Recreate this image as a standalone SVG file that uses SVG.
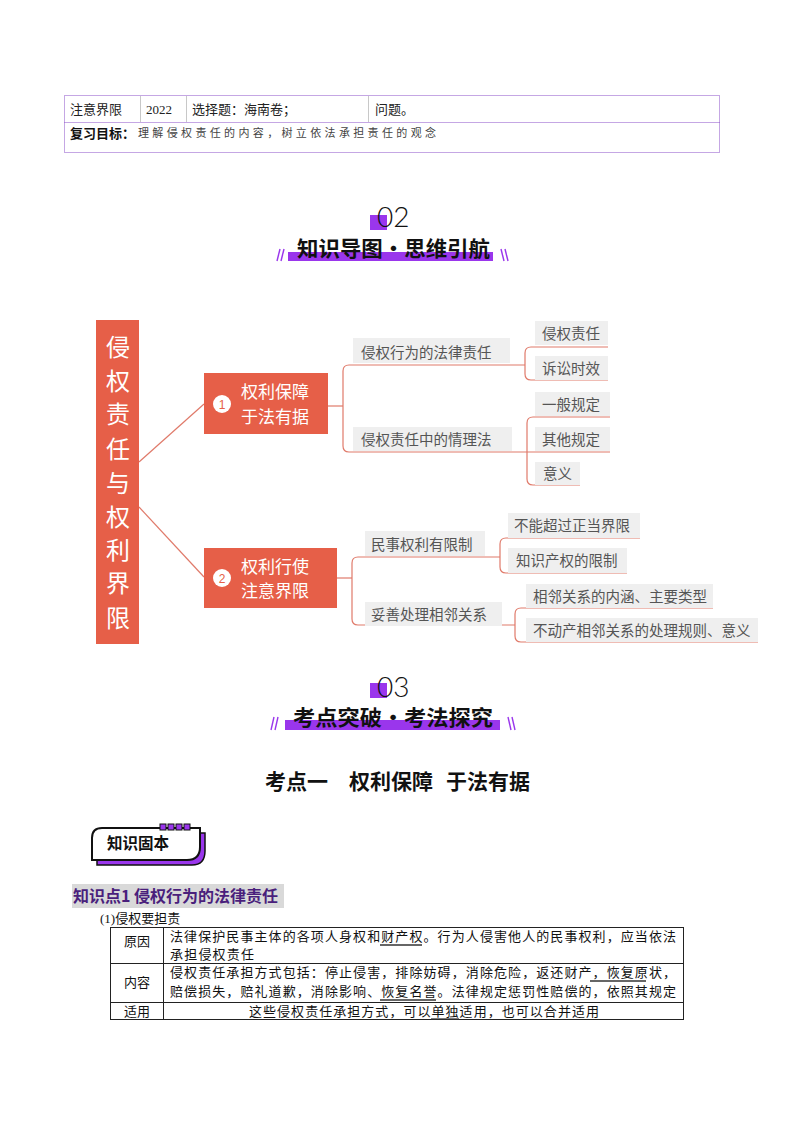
<svg xmlns="http://www.w3.org/2000/svg" width="793" height="1122" viewBox="0 0 793 1122">
<style>
.cjk{font-family:"Noto Sans CJK SC","Liberation Sans",sans-serif}
.t13{font-size:13px;fill:#222}
.tb{font-size:13px;fill:#111}
.sub{font-size:14.5px;fill:#555}
.subbox{fill:#efefef}
.conn{fill:none;stroke:#e07a6a;stroke-width:1.2}
.org{fill:#e65f48}
.wht{fill:#fff}
.pur{fill:#9a36ec}
.slash{stroke:#9a36ec;stroke-width:1.4}
.hd{font-size:21px;font-weight:700;fill:#111}
.num{font-family:Lato,"Liberation Sans",sans-serif;font-weight:300;font-size:28px;fill:#111}
.tbl{fill:none;stroke:#222;stroke-width:1}
.ul{stroke:#333;stroke-width:1.3}
</style>
<rect width="793" height="1122" fill="#fff"/>

<!-- top table -->
<g id="top-table">
<rect x="64.5" y="95.5" width="655" height="57" fill="none" stroke="#8a4fc9" stroke-width="1" stroke-dasharray="1,1"/>
<line x1="64.5" y1="122.5" x2="719.5" y2="122.5" stroke="#8a4fc9" stroke-dasharray="1,1"/>
<line x1="140.5" y1="96" x2="140.5" y2="122" stroke="#c8c8c8"/>
<line x1="186.5" y1="96" x2="186.5" y2="122" stroke="#c8c8c8"/>
<line x1="368.5" y1="96" x2="368.5" y2="122" stroke="#c8c8c8"/>
<text x="70" y="114" class="cjk t13">注意界限</text>
<text x="146" y="114" font-family="Liberation Serif,serif" font-size="13" fill="#222">2022</text>
<text x="192" y="114" class="cjk t13">选择题：海南卷；</text>
<text x="375" y="114" class="cjk t13">问题。</text>
<text x="70" y="138" class="cjk" font-size="13" font-weight="700" fill="#111">复习目标：</text>
<text x="138" y="137" class="cjk" font-size="11" fill="#444" textLength="298" lengthAdjust="spacing">理解侵权责任的内容，树立依法承担责任的观念</text>
</g>

<!-- heading 02 -->
<g id="heading-02">
<rect x="370" y="215" width="17" height="15" class="pur"/>
<text x="377" y="227" class="num">02</text>
<rect x="288" y="252" width="205" height="9" class="pur"/>
<text x="297" y="256" class="cjk hd" textLength="193" lengthAdjust="spacingAndGlyphs">知识导图•思维引航</text>
<line x1="277" y1="261" x2="280" y2="249" class="slash"/>
<line x1="281" y1="261" x2="284" y2="249" class="slash"/>
<line x1="501" y1="249" x2="504" y2="261" class="slash"/>
<line x1="505" y1="249" x2="508" y2="261" class="slash"/>
</g>

<!-- connectors -->
<g id="connectors">
<path class="conn" d="M139,462 L204,404"/>
<path class="conn" d="M139,507 L204,577"/>
<path class="conn" d="M328,406 H343"/>
<path class="conn" d="M349,365 Q343,365 343,371 V446 Q343,452 349,452"/>
<path class="conn" d="M349,365 H525"/>
<path class="conn" d="M349,452 H610"/>
<path class="conn" d="M531,347 Q525,347 525,353 V374 Q525,380 531,380"/>
<path class="conn" d="M531,347 H608 M531,380 H608"/>
<path class="conn" d="M533,417 Q527,417 527,423 V479 Q527,485 533,485"/>
<path class="conn" d="M533,417 H610 M533,485 H580"/>
<path class="conn" d="M337,578 H352"/>
<path class="conn" d="M358,557 Q352,557 352,563 V619 Q352,625 358,625"/>
<path class="conn" d="M358,557 H500 M358,625 H515"/>
<path class="conn" d="M506,538 Q500,538 500,544 V567 Q500,573 506,573"/>
<path class="conn" d="M506,538 H640 M506,573 H627"/>
<path class="conn" d="M521,608 Q515,608 515,614 V636 Q515,642 521,642"/>
<path class="conn" d="M521,608 H713 M521,642 H758"/>
</g>

<!-- root -->
<g id="root">
<rect x="96" y="320" width="43" height="324" class="org"/>
<g class="cjk wht" font-size="24" text-anchor="middle">
<text x="118" y="356">侵</text>
<text x="118" y="390">权</text>
<text x="118" y="423">责</text>
<text x="118" y="458">任</text>
<text x="118" y="492">与</text>
<text x="118" y="526">权</text>
<text x="118" y="559">利</text>
<text x="118" y="592">界</text>
<text x="118" y="627">限</text>
</g>
</g>

<g id="node1">
<rect x="204" y="373" width="124" height="61" class="org"/>
<circle cx="222" cy="404" r="9" class="wht"/>
<text x="222" y="408.5" font-family="Liberation Sans,sans-serif" font-size="12" text-anchor="middle" fill="#e65f48">1</text>
<text x="275" y="398" class="cjk wht" font-size="17" text-anchor="middle">权利保障</text>
<text x="275" y="423" class="cjk wht" font-size="17" text-anchor="middle">于法有据</text>
</g>

<g id="node2">
<rect x="204" y="548" width="133" height="60" class="org"/>
<circle cx="222" cy="578" r="9" class="wht"/>
<text x="222" y="582.5" font-family="Liberation Sans,sans-serif" font-size="12" text-anchor="middle" fill="#e65f48">2</text>
<text x="275" y="573" class="cjk wht" font-size="17" text-anchor="middle">权利行使</text>
<text x="275" y="597" class="cjk wht" font-size="17" text-anchor="middle">注意界限</text>
</g>

<g id="sub-1-1">
<rect x="353" y="338" width="157" height="25" class="subbox"/>
<text x="361" y="357.5" class="cjk sub" font-size="15">侵权行为的法律责任</text>
</g>
<g id="sub-1-2">
<rect x="353" y="427" width="159" height="24" class="subbox"/>
<text x="361" y="444.5" class="cjk sub" font-size="15">侵权责任中的情理法</text>
</g>
<g id="leaf-qqzr">
<rect x="535" y="321" width="73" height="24" class="subbox"/>
<text x="542" y="338.5" class="cjk sub">侵权责任</text>
</g>
<g id="leaf-sssx">
<rect x="535" y="356" width="73" height="24" class="subbox"/>
<text x="542" y="374" class="cjk sub">诉讼时效</text>
</g>
<g id="leaf-ybgd">
<rect x="535" y="392" width="75" height="24" class="subbox"/>
<text x="542" y="409.5" class="cjk sub">一般规定</text>
</g>
<g id="leaf-qtgd">
<rect x="535" y="427" width="75" height="24" class="subbox"/>
<text x="542" y="444.5" class="cjk sub">其他规定</text>
</g>
<g id="leaf-yy">
<rect x="535" y="462" width="45" height="23" class="subbox"/>
<text x="543" y="479" class="cjk sub">意义</text>
</g>

<g id="sub-2-1">
<rect x="365" y="531" width="120" height="25" class="subbox"/>
<text x="371" y="549.5" class="cjk sub" font-size="15">民事权利有限制</text>
</g>
<g id="sub-2-2">
<rect x="365" y="602" width="137" height="24" class="subbox"/>
<text x="371" y="619.5" class="cjk sub" font-size="15">妥善处理相邻关系</text>
</g>
<g id="leaf-bncg">
<rect x="508" y="513" width="132" height="25" class="subbox"/>
<text x="514" y="530.5" class="cjk sub">不能超过正当界限</text>
</g>
<g id="leaf-zscq">
<rect x="508" y="548" width="119" height="25" class="subbox"/>
<text x="516" y="566" class="cjk sub">知识产权的限制</text>
</g>
<g id="leaf-xlgx">
<rect x="526" y="584" width="187" height="24" class="subbox"/>
<text x="533" y="601.5" class="cjk sub">相邻关系的内涵、主要类型</text>
</g>
<g id="leaf-bdc">
<rect x="526" y="618" width="232" height="24" class="subbox"/>
<text x="533" y="636" class="cjk sub">不动产相邻关系的处理规则、意义</text>
</g>

<!-- heading 03 -->
<g id="heading-03">
<rect x="370" y="683" width="17" height="15" class="pur"/>
<text x="377" y="697" class="num">03</text>
<rect x="285" y="720" width="215" height="10" class="pur"/>
<text x="293" y="725" class="cjk hd" textLength="200" lengthAdjust="spacingAndGlyphs">考点突破•考法探究</text>
<line x1="271" y1="730" x2="274" y2="717" class="slash"/>
<line x1="275" y1="730" x2="278" y2="717" class="slash"/>
<line x1="508" y1="717" x2="511" y2="730" class="slash"/>
<line x1="512" y1="717" x2="515" y2="730" class="slash"/>
</g>

<g id="kaodian-title" class="cjk" font-size="21" font-weight="700" fill="#111">
<text x="265" y="789">考点一</text>
<text x="349" y="789">权利保障</text>
<text x="446" y="789">于法有据</text>
</g>

<!-- badge -->
<g id="badge">
<path d="M97,865 V843 Q97,833 107,833 H205 V851 Q205,865 192,865 Z" fill="#9a36ec" stroke="#111" stroke-width="1.5"/>
<path d="M92,860 V838 Q92,828 102,828 H200 V847 Q200,860 187,860 Z" fill="#fff" stroke="#111" stroke-width="2"/>
<rect x="160" y="824" width="6" height="6" fill="#9a36ec" stroke="#111" stroke-width="1"/>
<rect x="168" y="824" width="6" height="6" fill="#9a36ec" stroke="#111" stroke-width="1"/>
<rect x="176" y="824" width="6" height="6" fill="#9a36ec" stroke="#111" stroke-width="1"/>
<rect x="184" y="824" width="6" height="6" fill="#9a36ec" stroke="#111" stroke-width="1"/>
<text x="107" y="849" class="cjk" font-size="15.5" font-weight="700" fill="#111">知识固本</text>
</g>

<g id="zsd1">
<rect x="72" y="884" width="212" height="24" fill="#d9d9d9"/>
<text x="73" y="902" class="cjk" font-size="16" font-weight="700" fill="#4a1f7c">知识点1 侵权行为的法律责任</text>
</g>

<text x="100" y="923" font-family="Liberation Serif,'Noto Sans CJK SC',serif" font-size="13" fill="#111">(1)<tspan class="cjk">侵权要担责</tspan></text>

<!-- bottom table -->
<g id="table">
<rect x="110.5" y="927.5" width="573" height="92" class="tbl"/>
<line x1="110.5" y1="963.5" x2="683.5" y2="963.5" class="tbl"/>
<line x1="110.5" y1="1002.5" x2="683.5" y2="1002.5" class="tbl"/>
<line x1="163.5" y1="927.5" x2="163.5" y2="1019.5" class="tbl"/>
<text x="137" y="946" class="cjk tb" font-size="14" text-anchor="middle">原因</text>
<text x="137" y="987" class="cjk tb" font-size="14" text-anchor="middle">内容</text>
<text x="137" y="1016" class="cjk tb" font-size="14" text-anchor="middle">适用</text>
<text x="170" y="941" class="cjk tb" textLength="506" lengthAdjust="spacing">法律保护民事主体的各项人身权和财产权。行为人侵害他人的民事权利，应当依法</text>
<text x="170" y="959" class="cjk tb" textLength="84" lengthAdjust="spacing">承担侵权责任</text>
<text x="170" y="977" class="cjk tb" textLength="506" lengthAdjust="spacing">侵权责任承担方式包括：停止侵害，排除妨碍，消除危险，返还财产，恢复原状，</text>
<text x="170" y="996" class="cjk tb" textLength="506" lengthAdjust="spacing">赔偿损失，赔礼道歉，消除影响、恢复名誉。法律规定惩罚性赔偿的，依照其规定</text>
<text x="249" y="1016" class="cjk tb" textLength="350" lengthAdjust="spacing">这些侵权责任承担方式，可以单独适用，也可以合并适用</text>
<line x1="380" y1="945" x2="422" y2="945" class="ul"/>
<line x1="590" y1="981" x2="646" y2="981" class="ul"/>
<line x1="380" y1="1000" x2="436" y2="1000" class="ul"/>
<line x1="431" y1="1019" x2="459" y2="1019" class="ul"/>
</g>
</svg>
